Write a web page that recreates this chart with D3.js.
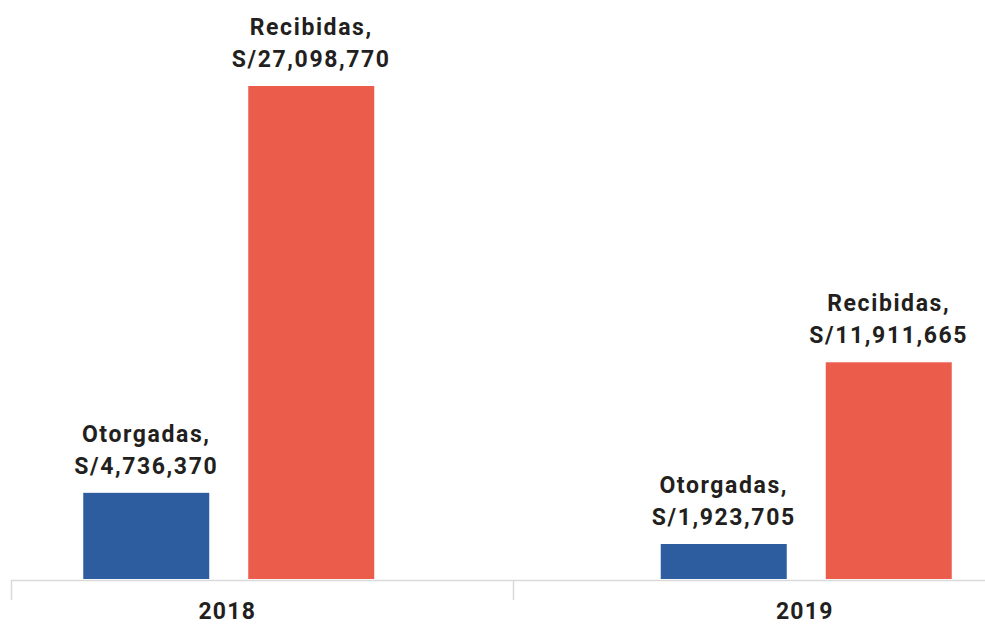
<!DOCTYPE html>
<html><head><meta charset="utf-8">
<script src="https://cdn.jsdelivr.net/npm/d3@7"></script>
<style>html,body{margin:0;padding:0;background:#fff;}</style>
</head><body>
<script>
const years = ["2018", "2019"];
const seriesNames = ["Otorgadas", "Recibidas"];
const otorgadas = [4736370, 1923705];
const recibidas = [27098770, 11911665];
const colors = ["#2d5c9f", "#eb5c4b"];

const W = 985, H = 625;
const svg = d3.select("body").append("svg").attr("width", W).attr("height", H);

const data = years.map((y, i) => ({year: y, values: [
  {name: seriesNames[0], value: otorgadas[i]},
  {name: seriesNames[1], value: recibidas[i]}
]}));

const baseline = 579;
const x0 = d3.scaleBand().domain(years).range([-60, 1095]);
const x1 = d3.scaleBand().domain(seriesNames).range([-145.5, 145.5]).paddingInner(39/165).paddingOuter(0);
const y = d3.scaleLinear().domain([0, d3.max(recibidas)]).range([baseline, 86]);
const color = d3.scaleOrdinal().domain(seriesNames).range(colors);
const fmt = d3.format(",");

// axis line and ticks
svg.append("line").attr("x1", 11).attr("x2", W).attr("y1", 580.5).attr("y2", 580.5)
  .attr("stroke", "#d9d9d9").attr("stroke-width", 1.5);
[11, 513].forEach(t => svg.append("line").attr("x1", t + 0.5).attr("x2", t + 0.5)
  .attr("y1", 580).attr("y2", 600).attr("stroke", "#d9d9d9").attr("stroke-width", 1.5));

const g = svg.selectAll("g.year").data(data).join("g")
  .attr("transform", d => `translate(${x0(d.year) + x0.bandwidth()/2},0)`);

g.selectAll("rect").data(d => d.values).join("rect")
  .attr("x", d => x1(d.name)).attr("width", x1.bandwidth())
  .attr("y", d => y(d.value)).attr("height", d => baseline - y(d.value))
  .attr("fill", d => color(d.name));

const font = "Roboto, 'Noto Sans', sans-serif";
const lbl = g.selectAll("text.lbl").data(d => d.values).join("text")
  .attr("class", "lbl")
  .attr("text-anchor", "middle")
  .attr("font-family", font).attr("font-weight", 700).attr("font-size", 23)
  .attr("letter-spacing", 1.6)
  .attr("fill", "#231f20");
lbl.append("tspan").attr("x", d => x1(d.name) + x1.bandwidth()/2)
  .attr("y", d => y(d.value) - 51).text(d => d.name + ",");
lbl.append("tspan").attr("x", d => x1(d.name) + x1.bandwidth()/2)
  .attr("y", d => y(d.value) - 19).text(d => "S/" + fmt(d.value));

g.append("text").attr("x", -1.5).attr("y", 619)
  .attr("text-anchor", "middle")
  .attr("font-family", font).attr("font-weight", 700).attr("font-size", 23)
  .attr("letter-spacing", 1.2)
  .attr("fill", "#231f20").text(d => d.year);
</script>
</body></html>
